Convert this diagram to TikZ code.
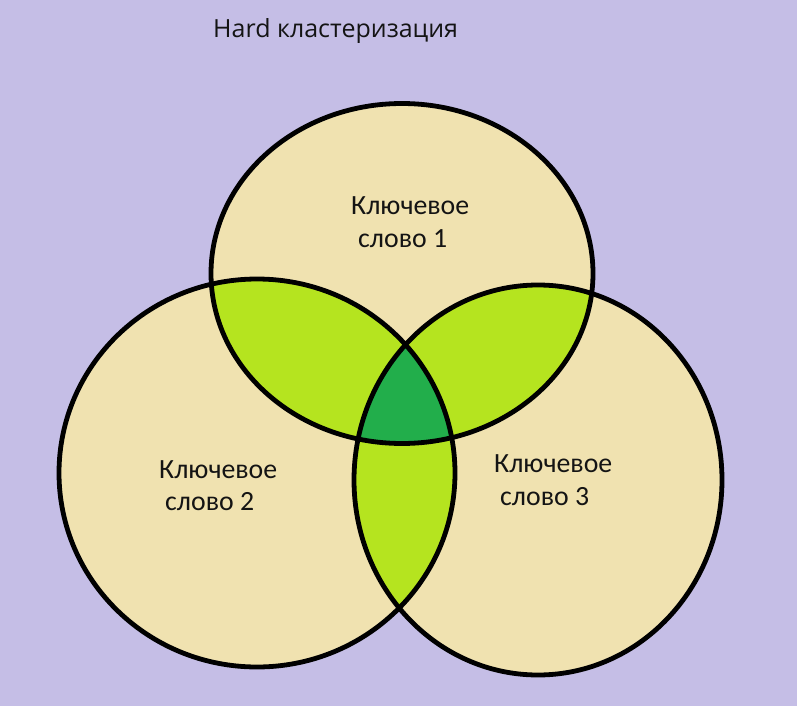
\documentclass[tikz,border=0pt]{standalone}
\usepackage{fontspec}
\setmainfont{Carlito}
\newfontfamily\titlefont{Open Sans}
\definecolor{bg}{RGB}{197,190,230}
\definecolor{beige}{RGB}{240,226,176}
\definecolor{lgreen}{RGB}{181,228,31}
\definecolor{dgreen}{RGB}{34,174,75}
\definecolor{ink}{RGB}{20,20,20}
\begin{document}
\begin{tikzpicture}[x=1pt,y=-1pt,
  outline/.style={draw=black,line width=4.8pt},
  lbl/.style={font=\fontsize{27.8}{32}\selectfont,inner sep=0pt,anchor=base west,text=ink},
  ttl/.style={font=\titlefont\fontsize{25}{29}\selectfont,inner sep=0pt,anchor=base west,text=ink}]
\fill[bg] (0,0) rectangle (797,706);
\useasboundingbox (0,0) rectangle (797,706);
\def\cA{(402,273.5) ellipse [x radius=191pt, y radius=170pt]}
\def\cB{(257,473) ellipse [x radius=198pt, y radius=194pt]}
\def\cC{(538,480) ellipse [x radius=184pt, y radius=195pt]}
\fill[beige] \cA;
\fill[beige] \cB;
\fill[beige] \cC;
\begin{scope}
  \clip \cA;
  \fill[lgreen] \cB;
  \fill[lgreen] \cC;
\end{scope}
\begin{scope}
  \clip \cB;
  \fill[lgreen] \cC;
\end{scope}
\begin{scope}
  \clip \cA;
  \clip \cB;
  \fill[dgreen] \cC;
\end{scope}
\draw[outline] \cA;
\draw[outline] \cB;
\draw[outline] \cC;
\node[ttl] (title) at (213,38) {Hard кластеризация};
\node[lbl] (k1a) at (351,214) {Ключевое};
\node[lbl] (k1b) at (358,247) {слово 1};
\node[lbl] (k2a) at (159,478) {Ключевое};
\node[lbl] (k2b) at (165,510) {слово 2};
\node[lbl] (k3a) at (494,472) {Ключевое};
\node[lbl] (k3b) at (500,505) {слово 3};
\end{tikzpicture}
\end{document}
